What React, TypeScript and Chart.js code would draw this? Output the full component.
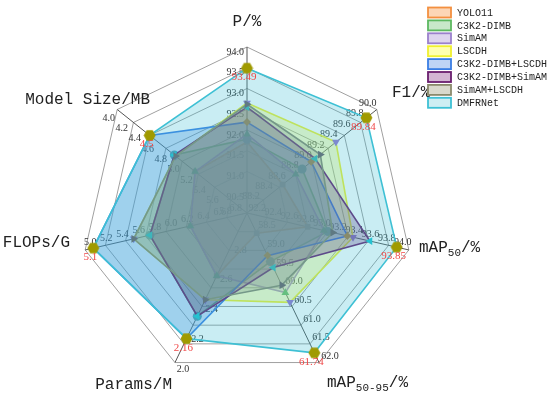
import React, { useEffect, useRef } from 'react';
import { Chart, registerables } from 'chart.js';

Chart.register(...registerables);

// ---- axes ----
const categories = ['P/%', 'F1/%', 'mAP_{50}/%', 'mAP_{50-95}/%', 'Params/M', 'FLOPs/G', 'Model Size/MB'];
const axisInner = [90.0, 88.0, 92.0, 58.0, 3.0, 7.0, 6.0];
const axisOuter = [94.0, 90.0, 94.0, 62.0, 2.0, 5.0, 4.0];
const axisDivisions = [8, 10, 10, 8, 5, 10, 10];

// ---- series ----
const seriesNames = ['YOLO11', 'C3K2-DIMB', 'SimAM', 'LSCDH', 'C3K2-DIMB+LSCDH', 'C3K2-DIMB+SimAM', 'SimAM+LSCDH', 'DMFRNet'];
const yolo11 = [91.71, 88.55, 92.75, 58.54, 2.58, 6.3, 5.2];
const c3k2Dimb = [91.78, 88.85, 93.0, 59.3, 2.31, 5.8, 4.88];
const simAM = [91.9, 88.75, 92.95, 60.13, 2.58, 6.3, 5.2];
const lscdh = [92.65, 89.37, 93.31, 60.39, 2.42, 5.6, 4.9];
const dimbLscdh = [92.19, 88.99, 93.24, 59.14, 2.16, 5.1, 4.5];
const dimbSimAM = [92.55, 89.05, 93.52, 59.46, 2.31, 5.8, 4.88];
const simAMLscdh = [92.62, 89.13, 93.06, 59.93, 2.42, 5.6, 4.9];
const dmfrnet = [93.49, 89.84, 93.85, 61.74, 2.16, 5.1, 4.5];
const seriesValues = [yolo11, c3k2Dimb, simAM, lscdh, dimbLscdh, dimbSimAM, simAMLscdh, dmfrnet];

const RINGS = 8;

// ---- styles ----
const lineColors = ['#F39040', '#5CB860', '#9B80CC', '#F0F030', '#3A7EE4', '#6A1E6E', '#8A8A6C', '#3EC0D4'];
const fillColors = [
  'rgba(243,144,64,0.3)',
  'rgba(92,184,96,0.3)',
  'rgba(155,128,204,0.3)',
  'rgba(245,245,60,0.3)',
  'rgba(58,126,228,0.3)',
  'rgba(106,30,110,0.3)',
  'rgba(138,138,108,0.3)',
  'rgba(62,192,212,0.28)',
];
const legendFills = ['#FCD6B6', '#C8E8CA', '#DED4EF', '#FFFFB0', '#BFD4F5', '#D3B5D3', '#D9D9CC', '#CEEEF3'];
const pointColors = ['#9A8F8F', '#4FA3A0', '#3FA870', '#9575CD', '#C0A030', '#1CC4D0', '#6D5F63', '#A09A00'];
const pointStyles: any[] = ['rect', 'circle', 'triangle', 'triangle', 'rectRot', 'triangle', 'triangle', 'hex'];
const pointRotations = [0, 0, 0, 180, 0, -90, 90, 0];

const toRing = (i: number, v: number) => ((v - axisInner[i]) / (axisOuter[i] - axisInner[i])) * RINGS;

// layout of per-axis text
const tickOffsets: [number, number, CanvasTextAlign][] = [
  [-3, 5, 'right'],
  [-9, -6, 'center'],
  [-6, -8, 'center'],
  [11, -6, 'center'],
  [8, 7, 'center'],
  [5, -8, 'center'],
  [-8.5, 8.5, 'center'],
];
const titleAnchors: [number, number, CanvasTextAlign][] = [
  [0, -191, 'center'],
  [145, -120, 'left'],
  [172, 35, 'left'],
  [80, 170, 'left'],
  [-75, 172, 'right'],
  [-177, 30, 'right'],
  [-97, -113, 'right'],
];

function drawRich(ctx: CanvasRenderingContext2D, text: string, x: number, y: number, align: CanvasTextAlign) {
  const parts: { t: string; sub: boolean }[] = [];
  const re = /_\{([^}]*)\}/g;
  let last = 0;
  let m: RegExpExecArray | null;
  while ((m = re.exec(text))) {
    if (m.index > last) parts.push({ t: text.slice(last, m.index), sub: false });
    parts.push({ t: m[1], sub: true });
    last = m.index + m[0].length;
  }
  if (last < text.length) parts.push({ t: text.slice(last), sub: false });
  const mainFont = '16px "Liberation Mono"';
  const subFont = '11px "Liberation Mono"';
  let total = 0;
  const widths = parts.map((p) => {
    ctx.font = p.sub ? subFont : mainFont;
    const w = ctx.measureText(p.t).width;
    total += w;
    return w;
  });
  let cx = align === 'left' ? x : align === 'right' ? x - total : x - total / 2;
  ctx.textAlign = 'left';
  ctx.textBaseline = 'middle';
  ctx.fillStyle = '#222';
  parts.forEach((p, k) => {
    ctx.font = p.sub ? subFont : mainFont;
    ctx.fillText(p.t, cx, p.sub ? y + 5 : y);
    cx += widths[k];
  });
}

const overlay = {
  id: 'overlay',
  beforeDatasetsDraw(chart: any) {
    const ctx: CanvasRenderingContext2D = chart.ctx;
    const scale = chart.scales.r;
    ctx.save();
    ctx.font = '10px "Liberation Serif"';
    ctx.fillStyle = '#333';
    ctx.textBaseline = 'middle';
    for (let i = 0; i < categories.length; i++) {
      const n = axisDivisions[i];
      for (let k = 1; k <= n; k++) {
        const v = axisInner[i] + ((axisOuter[i] - axisInner[i]) * k) / n;
        const p = scale.getPointPositionForValue(i, (RINGS * k) / n);
        const [dx, dy, al] = tickOffsets[i];
        ctx.textAlign = al;
        ctx.fillText(v.toFixed(1), p.x + dx, p.y + dy);
      }
    }
    ctx.restore();
  },
  afterDatasetsDraw(chart: any) {
    const ctx: CanvasRenderingContext2D = chart.ctx;
    const scale = chart.scales.r;
    ctx.save();
    // red value labels for DMFRNet
    ctx.font = '11px "Liberation Serif"';
    ctx.fillStyle = '#F04848';
    ctx.textAlign = 'center';
    ctx.textBaseline = 'middle';
    dmfrnet.forEach((v, i) => {
      const p = scale.getPointPositionForValue(i, toRing(i, v));
      ctx.fillText(String(v), p.x - 3, p.y + 9);
    });
    // axis titles
    categories.forEach((c, i) => {
      const [dx, dy, al] = titleAnchors[i];
      drawRich(ctx, c, scale.xCenter + dx, scale.yCenter + dy, al);
    });
    // legend
    ctx.font = '10px "Liberation Mono"';
    ctx.textAlign = 'left';
    ctx.textBaseline = 'middle';
    seriesNames.forEach((name, i) => {
      const y = 12.5 + i * 12.9;
      ctx.fillStyle = legendFills[i];
      ctx.fillRect(428, y - 5, 23, 10);
      ctx.strokeStyle = lineColors[i];
      ctx.lineWidth = 1.8;
      ctx.strokeRect(428, y - 5, 23, 10);
      ctx.fillStyle = '#222';
      ctx.fillText(name, 457, y + 0.5);
    });
    ctx.restore();
  },
};

export default function App() {
  const ref = useRef<HTMLCanvasElement>(null);
  useEffect(() => {
    if (!ref.current) return;
    const hex = document.createElement('canvas');
    hex.width = 13;
    hex.height = 13;
    const hc = hex.getContext('2d')!;
    hc.fillStyle = pointColors[7];
    hc.beginPath();
    for (let k = 0; k < 6; k++) {
      const a = (Math.PI / 3) * k;
      const px = 6.5 + 6 * Math.cos(a);
      const py = 6.5 + 6 * Math.sin(a);
      if (k === 0) hc.moveTo(px, py);
      else hc.lineTo(px, py);
    }
    hc.closePath();
    hc.fill();

    const datasets = seriesNames.map((name, s) => ({
      label: name,
      data: seriesValues[s].map((v, i) => toRing(i, v)),
      borderColor: lineColors[s],
      backgroundColor: fillColors[s],
      borderWidth: 1.6,
      fill: true,
      order: seriesNames.length - 1 - s,
      pointStyle: pointStyles[s] === 'hex' ? hex : pointStyles[s],
      pointRotation: pointRotations[s],
      pointRadius: pointStyles[s] === 'rect' || pointStyles[s] === 'rectRot' ? 4 : 4.5,
      pointBackgroundColor: pointColors[s],
      pointBorderColor: pointColors[s],
      pointBorderWidth: 0,
    }));

    const chart = new Chart(ref.current, {
      type: 'radar',
      data: { labels: categories.map((c) => c.replace(/_\{([^}]*)\}/g, '$1')), datasets },
      options: {
        responsive: true,
        maintainAspectRatio: false,
        animation: false,
        layout: { padding: { left: 81, top: 47, right: 137, bottom: 22 } },
        plugins: { legend: { display: false }, tooltip: { enabled: false } },
        elements: { line: { tension: 0 } },
        scales: {
          r: {
            min: 0,
            max: RINGS,
            ticks: { display: false, stepSize: 1 },
            pointLabels: { display: false },
            grid: { color: '#a0a0a0', lineWidth: 1, circular: false },
            angleLines: { color: '#555', lineWidth: 1 },
          },
        },
      },
      plugins: [overlay],
    } as any);
    return () => chart.destroy();
  }, []);
  return (
    <div style={{ position: 'absolute', left: 0, top: 0, width: 550, height: 401, background: '#fff' }}>
      <canvas ref={ref} />
    </div>
  );
}
